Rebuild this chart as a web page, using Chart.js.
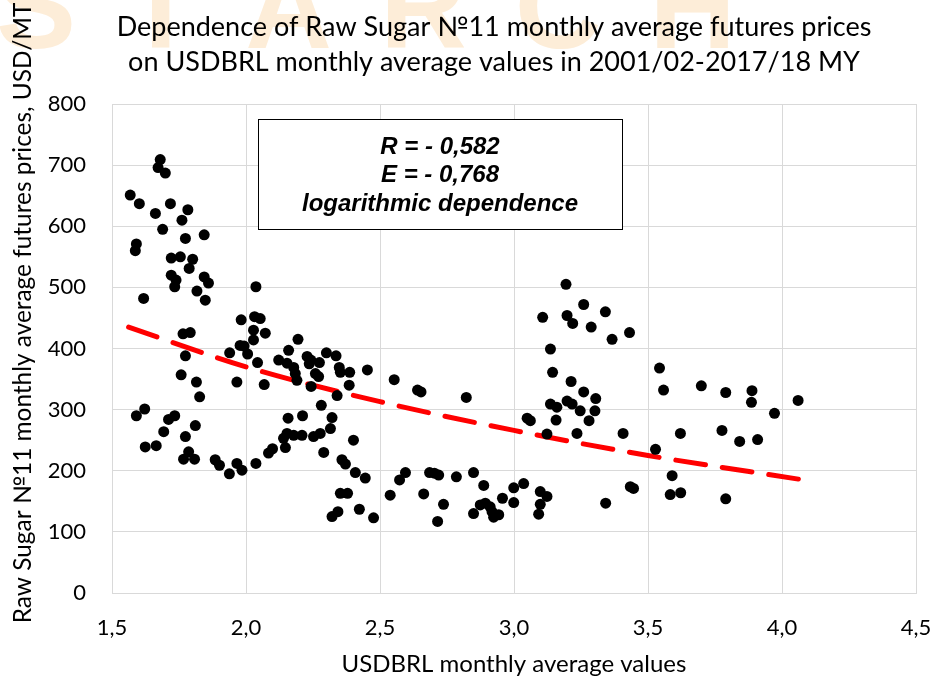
<!DOCTYPE html>
<html lang="en">
<head>
  <meta charset="UTF-8">
  <title>Raw Sugar №11 vs USDBRL</title>
  <script src="https://cdn.jsdelivr.net/npm/chart.js"></script>
  <style>
    html, body {
      margin: 0;
      padding: 0;
      background: #fff;
    }
    #chart-container {
      width: 932px;
      height: 680px;
    }
  </style>
</head>
<body>
  <div id="chart-container">
    <canvas id="sugarChart" width="932" height="680"></canvas>
  </div>

  <script>
    // monthly averages
    const usdbrl = [
      1.568, 1.602, 1.680, 1.672, 1.699, 1.662, 1.718, 1.783, 1.761, 1.689,
      1.774, 1.844, 1.591, 1.587, 1.721, 1.755, 1.801, 1.788, 1.844, 1.860,
      1.721, 1.739, 1.734, 1.817, 1.848, 1.618, 1.765, 1.792, 1.774, 1.758,
      1.815, 1.827, 1.591, 1.622, 1.624, 1.665, 1.693, 1.711, 1.734, 1.774,
      1.811, 1.786, 1.767, 1.808, 1.885, 1.901, 1.938, 1.966, 1.985, 2.037,
      2.084, 2.099, 2.037, 1.982, 2.032, 2.053, 2.028, 2.072, 2.028, 2.194,
      1.939, 1.978, 1.993, 2.006, 2.043, 1.966, 2.068, 2.122, 2.159, 2.153,
      2.178, 2.184, 2.190, 2.228, 2.242, 2.236, 2.274, 2.259, 2.271, 2.243,
      2.300, 2.336, 2.348, 2.352, 2.387, 2.385, 2.340, 2.453, 2.553, 2.281,
      2.157, 2.211, 2.321, 2.315, 2.277, 2.252, 2.153, 2.178, 2.209, 2.140,
      2.401, 2.290, 2.147, 2.358, 2.371, 2.408, 2.445, 2.352, 2.379, 2.321,
      2.343, 2.423, 2.476, 2.538, 2.573, 2.595, 2.663, 2.685, 2.703, 2.719,
      2.715, 2.737, 2.785, 2.849, 2.887, 2.849, 2.874, 2.893, 2.911, 2.918,
      2.924, 2.943, 2.957, 2.999, 3.036, 2.999, 3.098, 3.123, 3.098, 3.092,
      2.640, 2.653, 2.822, 3.136, 3.144, 3.213, 3.260, 3.305, 3.136, 3.160,
      3.198, 3.217, 3.247, 3.302, 3.049, 3.061, 3.157, 3.280, 3.123, 3.235,
      3.407, 3.194, 3.260, 3.107, 3.198, 3.219, 3.341, 3.288, 3.366, 3.431,
      3.342, 3.434, 3.446, 3.543, 3.558, 3.699, 3.790, 3.888, 3.886, 3.972,
      4.060, 3.621, 3.776, 3.842, 3.909, 3.528, 3.590, 3.583, 3.622, 3.790
    ];
    const sugarPrice = [
      651, 637, 709, 696, 687, 621, 637, 627, 610, 595,
      580, 586, 571, 560, 548, 550, 546, 531, 517, 507,
      520, 512, 501, 494, 479, 482, 424, 426, 388, 357,
      345, 321, 290, 301, 239, 241, 264, 284, 290, 256,
      274, 231, 219, 219, 218, 209, 195, 212, 201, 212,
      229, 236, 501, 447, 452, 449, 430, 425, 414, 415,
      393, 405, 404, 391, 377, 345, 341, 381, 397, 376,
      369, 359, 348, 387, 381, 375, 377, 359, 354, 338,
      393, 388, 369, 361, 361, 340, 323, 365, 349, 307,
      286, 290, 287, 269, 261, 256, 261, 258, 258, 253,
      250, 230, 238, 218, 211, 197, 188, 163, 163, 125,
      133, 137, 123, 160, 185, 197, 162, 197, 196, 193,
      117, 145, 190, 197, 176, 130, 144, 147, 141, 133,
      124, 128, 155, 172, 179, 148, 166, 158, 145, 129,
      332, 329, 320, 399, 361, 346, 329, 318, 309, 304,
      314, 309, 298, 298, 286, 282, 283, 282, 260, 261,
      261, 505, 472, 451, 454, 441, 460, 435, 415, 426,
      147, 174, 171, 368, 332, 339, 328, 331, 312, 294,
      315, 261, 266, 248, 251, 235, 192, 161, 164, 154
    ];

    // logarithmic trend line, points
    const trendX = [1.562, 2.0, 2.5, 3.0, 3.5, 4.066];
    const trendY = [435, 370, 313, 266, 225, 186];

    const titleLines = [
      'Dependence of Raw Sugar №11 monthly average futures prices',
      'on USDBRL monthly average values in 2001/02-2017/18 MY'
    ];
    const yTitle = 'Raw Sugar №11 monthly average futures prices, USD/MT';
    const xTitle = 'USDBRL monthly average values';
    const boxLines = ['R = - 0,582', 'E = - 0,768', 'logarithmic dependence'];
    const watermark = 'STARCH';

    const FONT = "Lato, 'Open Sans', sans-serif";
    Chart.defaults.font.family = FONT;
    Chart.defaults.color = '#000';

    // watermark and the two-line title, drawn before the chart
    const headerPlugin = {
      id: 'header',
      beforeDraw(chart) {
        const ctx = chart.ctx;
        ctx.save();
        ctx.fillStyle = '#fff';
        ctx.fillRect(0, 0, chart.width, chart.height);
        ctx.fillStyle = '#FDEDD8';
        ctx.font = "bold 120px 'Liberation Sans', Arial, sans-serif";
        ctx.textBaseline = 'alphabetic';
        let x = -4;
        for (const ch of watermark) {
          ctx.fillText(ch, x, 48);
          x += ctx.measureText(ch).width + 48;
        }
        ctx.fillStyle = '#000';
        ctx.font = '27px ' + FONT;
        ctx.textAlign = 'center';
        ctx.textBaseline = 'middle';
        titleLines.forEach((line, i) => {
          ctx.fillText(line, 494, 27 + i * 35);
        });
        ctx.restore();
      }
    };

    // R / E text box and the rotated y title
    const annotationPlugin = {
      id: 'annotation',
      afterDatasetsDraw(chart) {
        const ctx = chart.ctx;
        const area = chart.chartArea;
        const left = area.left + 146, top = area.top + 15;
        const w = 364, h = 110;
        ctx.save();
        ctx.fillStyle = '#fff';
        ctx.fillRect(left, top, w, h);
        ctx.strokeStyle = '#000';
        ctx.lineWidth = 1;
        ctx.strokeRect(left + 0.5, top + 0.5, w, h);
        ctx.fillStyle = '#000';
        ctx.font = "italic bold 24px 'Liberation Sans', Arial, sans-serif";
        ctx.textAlign = 'center';
        ctx.textBaseline = 'middle';
        boxLines.forEach((line, i) => {
          ctx.fillText(line, left + w / 2, top + 28 + i * 28.5);
        });
        ctx.restore();
      },
      afterDraw(chart) {
        const ctx = chart.ctx;
        ctx.save();
        ctx.translate(23, 313);
        ctx.rotate(-Math.PI / 2);
        ctx.fillStyle = '#000';
        ctx.font = '24.4px ' + FONT;
        ctx.textAlign = 'center';
        ctx.textBaseline = 'middle';
        ctx.fillText(yTitle, 0, 0);
        ctx.restore();
      }
    };

    const points = usdbrl.map((x, i) => ({ x: x, y: sugarPrice[i] }));
    const trend = trendX.map((x, i) => ({ x: x, y: trendY[i] }));

    new Chart(document.getElementById('sugarChart'), {
      type: 'scatter',
      data: {
        datasets: [
          {
            label: 'monthly averages',
            data: points,
            backgroundColor: '#000',
            borderColor: '#000',
            pointRadius: 5.5,
            pointBorderWidth: 0
          },
          {
            type: 'line',
            label: 'trend',
            data: trend,
            showLine: true,
            borderColor: '#ff0000',
            borderWidth: 5,
            borderDash: [30, 17],
            borderCapStyle: 'round',
            cubicInterpolationMode: 'monotone',
            pointRadius: 0,
            fill: false
          }
        ]
      },
      options: {
        responsive: false,
        animation: false,
        layout: {
          padding: { left: 0, right: 16, top: 104, bottom: 0 }
        },
        scales: {
          x: {
            type: 'linear',
            min: 1.5,
            max: 4.5,
            // invisible tick marks push the labels down without widening the side padding
            grid: { color: '#d9d9d9', drawTicks: true, tickLength: 22, tickColor: 'rgba(0,0,0,0)' },
            border: { color: '#d9d9d9' },
            ticks: {
              stepSize: 0.5,
              padding: 0,
              font: { size: 22 },
              callback: v => v.toFixed(1).replace('.', ',')
            },
            title: {
              display: true,
              text: xTitle,
              font: { size: 24 },
              padding: { top: 0, bottom: 1 }
            },
            afterFit: s => { s.height = 87; }
          },
          y: {
            min: 0,
            max: 800,
            grid: { color: '#d9d9d9', drawTicks: false },
            border: { color: '#d9d9d9' },
            ticks: {
              stepSize: 100,
              padding: 26,
              font: { size: 22 }
            },
            afterFit: s => { s.width = 112; }
          }
        },
        plugins: {
          legend: { display: false },
          tooltip: { enabled: false },
          title: { display: false }
        }
      },
      plugins: [headerPlugin, annotationPlugin]
    });
  </script>
</body>
</html>
